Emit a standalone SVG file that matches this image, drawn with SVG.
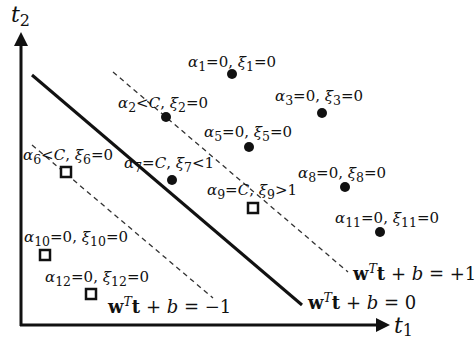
<svg xmlns="http://www.w3.org/2000/svg" width="475" height="342" viewBox="0 0 475 342">
<style>
text{font-family:"DejaVu Serif","Liberation Serif",serif;fill:#111;font-size:15px}
.i{font-style:italic}
.s{font-size:12.5px}
.b{font-weight:bold}
.eq{font-size:18px}
.axis{stroke:#111;stroke-width:3;fill:none}
.sep{stroke:#111;stroke-width:3;fill:none}
.marg{stroke:#333;stroke-width:1.3;stroke-dasharray:5,4;fill:none}
.dot{fill:#111}
.sq{fill:#fff;stroke:#111;stroke-width:2.5}
</style>
<g id="axes">
<path class="axis" d="M21,326 L21,45"/>
<path d="M14,46 L21,32 L28,46 Z" fill="#111"/>
<path class="axis" d="M20,325 L377,325"/>
<path d="M376,318 L390,325 L376,332 Z" fill="#111"/>
<text x="11" y="22" class="i" style="font-size:22px">t<tspan dy="4" style="font-size:16px;font-style:normal">2</tspan></text>
<text x="394" y="333" class="i" style="font-size:22px">t<tspan dy="3" style="font-size:16px;font-style:normal">1</tspan></text>
</g>
<g id="connectors">
<path class="sep" d="M32,75 L302,305"/>
<path class="marg" d="M113,72 L348,272"/>
<path class="marg" d="M32,145 L213,298"/>
</g>
<g id="p1"><circle class="dot" cx="232" cy="74" r="5"/>
<text x="188" y="67"><tspan class="i">α</tspan><tspan class="s" dy="4">1</tspan><tspan dy="-4">=0, </tspan><tspan class="i">ξ</tspan><tspan class="s" dy="4">1</tspan><tspan dy="-4">=0</tspan></text></g>
<g id="p2"><circle class="dot" cx="166" cy="117" r="5"/>
<text x="118" y="108"><tspan class="i">α</tspan><tspan class="s" dy="4">2</tspan><tspan dy="-4">&lt;</tspan><tspan class="i">C</tspan><tspan>, </tspan><tspan class="i">ξ</tspan><tspan class="s" dy="4">2</tspan><tspan dy="-4">=0</tspan></text></g>
<g id="p3"><circle class="dot" cx="322" cy="113" r="5"/>
<text x="275" y="101"><tspan class="i">α</tspan><tspan class="s" dy="4">3</tspan><tspan dy="-4">=0, </tspan><tspan class="i">ξ</tspan><tspan class="s" dy="4">3</tspan><tspan dy="-4">=0</tspan></text></g>
<g id="p5"><circle class="dot" cx="249" cy="147" r="5"/>
<text x="204" y="137"><tspan class="i">α</tspan><tspan class="s" dy="4">5</tspan><tspan dy="-4">=0, </tspan><tspan class="i">ξ</tspan><tspan class="s" dy="4">5</tspan><tspan dy="-4">=0</tspan></text></g>
<g id="p6"><rect class="sq" x="61" y="167" width="10" height="10"/>
<text x="23" y="160"><tspan class="i">α</tspan><tspan class="s" dy="4">6</tspan><tspan dy="-4">&lt;</tspan><tspan class="i">C</tspan><tspan>, </tspan><tspan class="i">ξ</tspan><tspan class="s" dy="4">6</tspan><tspan dy="-4">=0</tspan></text></g>
<g id="p7"><circle class="dot" cx="172" cy="180" r="5"/>
<text x="124" y="168"><tspan class="i">α</tspan><tspan class="s" dy="4">7</tspan><tspan dy="-4">=</tspan><tspan class="i">C</tspan><tspan>, </tspan><tspan class="i">ξ</tspan><tspan class="s" dy="4">7</tspan><tspan dy="-4">&lt;1</tspan></text></g>
<g id="p8"><circle class="dot" cx="345" cy="187" r="5"/>
<text x="298" y="178"><tspan class="i">α</tspan><tspan class="s" dy="4">8</tspan><tspan dy="-4">=0, </tspan><tspan class="i">ξ</tspan><tspan class="s" dy="4">8</tspan><tspan dy="-4">=0</tspan></text></g>
<g id="p9"><rect class="sq" x="248" y="203" width="10" height="10"/>
<text x="207" y="195"><tspan class="i">α</tspan><tspan class="s" dy="4">9</tspan><tspan dy="-4">=</tspan><tspan class="i">C</tspan><tspan>, </tspan><tspan class="i">ξ</tspan><tspan class="s" dy="4">9</tspan><tspan dy="-4">&gt;1</tspan></text></g>
<g id="p10"><rect class="sq" x="40" y="250" width="10" height="10"/>
<text x="24" y="242"><tspan class="i">α</tspan><tspan class="s" dy="4">10</tspan><tspan dy="-4">=0, </tspan><tspan class="i">ξ</tspan><tspan class="s" dy="4">10</tspan><tspan dy="-4">=0</tspan></text></g>
<g id="p11"><circle class="dot" cx="380" cy="232" r="5"/>
<text x="335" y="223"><tspan class="i">α</tspan><tspan class="s" dy="4">11</tspan><tspan dy="-4">=0, </tspan><tspan class="i">ξ</tspan><tspan class="s" dy="4">11</tspan><tspan dy="-4">=0</tspan></text></g>
<g id="p12"><rect class="sq" x="86" y="289" width="10" height="10"/>
<text x="45" y="282"><tspan class="i">α</tspan><tspan class="s" dy="4">12</tspan><tspan dy="-4">=0, </tspan><tspan class="i">ξ</tspan><tspan class="s" dy="4">12</tspan><tspan dy="-4">=0</tspan></text></g>
<g id="eq">
<text x="353" y="280" class="eq"><tspan class="b">w</tspan><tspan class="i s" dy="-7">T</tspan><tspan class="b" dy="7">t</tspan><tspan> + </tspan><tspan class="i">b</tspan><tspan> = +1</tspan></text>
<text x="308" y="309" class="eq"><tspan class="b">w</tspan><tspan class="i s" dy="-7">T</tspan><tspan class="b" dy="7">t</tspan><tspan> + </tspan><tspan class="i">b</tspan><tspan> = 0</tspan></text>
<text x="108" y="313" class="eq"><tspan class="b">w</tspan><tspan class="i s" dy="-7">T</tspan><tspan class="b" dy="7">t</tspan><tspan> + </tspan><tspan class="i">b</tspan><tspan> = −1</tspan></text>
</g>
</svg>
